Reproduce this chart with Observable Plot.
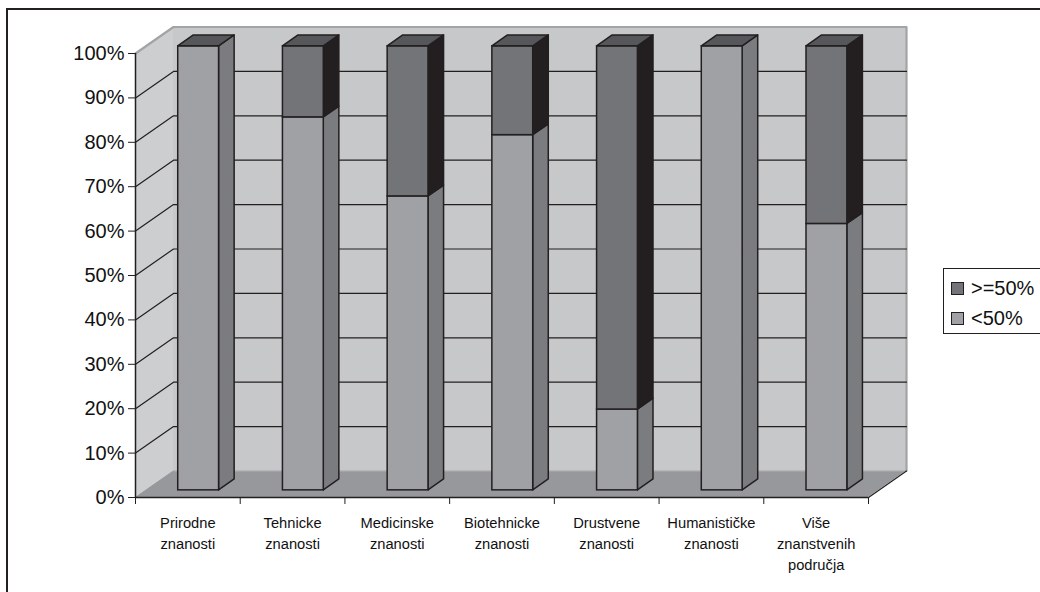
<!DOCTYPE html>
<html><head><meta charset="utf-8">
<script src="https://cdn.jsdelivr.net/npm/d3@7"></script>
<script src="https://cdn.jsdelivr.net/npm/@observablehq/plot@0.6"></script>
<style>
html,body{margin:0;padding:0;background:#fff;overflow:hidden;}
#wrap{position:relative;width:1040px;height:592px;font-family:"Liberation Sans",Arial,sans-serif;}
#frame{position:absolute;left:6px;top:8px;width:1100px;height:700px;border:2px solid #231f20;box-sizing:border-box;}
#chart{position:absolute;left:0;top:0;}
#legend{position:absolute;left:943px;top:268px;width:120px;height:66px;border:1px solid #231f20;background:#fff;box-sizing:border-box;}
.item{position:absolute;left:7px;height:22px;display:flex;align-items:center;font-size:20px;color:#111;white-space:nowrap;}
.sw{width:11px;height:11px;border:1px solid #231f20;margin-right:7px;}
</style></head>
<body>
<div id="wrap"><div id="frame"></div><div id="chart"></div><div id="legend"></div></div>
<script>
// ---- data ----
const categories = ["Prirodne\nznanosti", "Tehnicke\nznanosti", "Medicinske\nznanosti", "Biotehnicke\nznanosti", "Drustvene\nznanosti", "Humanističke\nznanosti", "Više\nznanstvenih\npodručja"];
const seriesNames = [">=50%", "<50%"];
const below50 = [100, 84, 66.2, 80, 18.2, 100, 60];
const above50 = [0, 16, 33.8, 20, 81.8, 0, 40];
const yTicks = [0, 10, 20, 30, 40, 50, 60, 70, 80, 90, 100];

// ---- styling / projection ----
const W = 1040, H = 592, mL = 135, mR = 172, mT = 53, mB = 95;
const n = categories.length;
const yMax = yTicks[yTicks.length - 1];
const pxX = n / (W - mL - mR), pxY = yMax / (H - mT - mB);
const DX = 38 * pxX, DY = 26.5 * pxY;          // full depth offset in data units
const zf = 0.27, zb = 0.68, b0 = 0.31, b1 = 0.70; // bar depth & width within band
const colLo = "#a0a1a4", colLoSide = "#7b7c80", colHi = "#737478", colHiSide = "#231f20", colTop = "#56575b";
const ink = "#231f20";

// segments
const segs = [];
categories.forEach((c, i) => {
  const parts = [{s: "<50%", v0: 0, v1: below50[i]}, {s: ">=50%", v0: below50[i], v1: below50[i] + above50[i]}];
  parts.filter(p => p.v1 > p.v0).forEach((p, k, arr) => segs.push({id: i + p.s, i, s: p.s, v0: p.v0, v1: p.v1, top: k === arr.length - 1}));
});
const front = segs.map(d => ({...d, x1: d.i + b0 + zf * DX, x2: d.i + b1 + zf * DX, y1: d.v0 + zf * DY, y2: d.v1 + zf * DY}));
const side = segs.flatMap(d => [zf, zb].map(z => ({...d, x: d.i + b1 + z * DX, lo: d.v0 + z * DY, hi: d.v1 + z * DY})));
const topF = segs.filter(d => d.top).flatMap(d => [zf, zb].map(z => ({...d, y: d.v1 + z * DY, x1: d.i + b0 + z * DX, x2: d.i + b1 + z * DX})));

const grid = yTicks.filter(v => v > 0 && v < yMax).flatMap(v => [{v, x: 0, y: v}, {v, x: DX, y: v + DY}, {v, x: n + DX, y: v + DY}]);
const edge = [{x: 0, y: yMax}, {x: DX, y: yMax + DY}, {x: n + DX, y: yMax + DY}, {x: n + DX, y: DY}];

const chart = Plot.plot({
  width: W, height: H, marginLeft: mL, marginRight: mR, marginTop: mT, marginBottom: mB,
  x: {domain: [0, n], axis: null},
  y: {domain: [0, yMax], axis: null},
  style: {fontFamily: "'Liberation Sans', Arial, sans-serif", background: "transparent", color: "#111", overflow: "visible"},
  marks: [
    // back wall
    Plot.rect([0], {x1: DX, x2: n + DX, y1: DY, y2: yMax + DY, fill: "#c7c8ca"}),
    // left wall
    Plot.area([{x: 0, lo: 0, hi: yMax}, {x: DX, lo: DY, hi: yMax + DY}], {x1: "x", y1: "lo", y2: "hi", fill: "#cdced0"}),
    // floor
    Plot.area([{y: 0, a: 0, b: n}, {y: DY, a: DX, b: n + DX}], {y1: "y", x1: "a", x2: "b", fill: "#97989b"}),
    Plot.line([{x: DX, y: DY}, {x: n + DX, y: DY}], {x: "x", y: "y", stroke: "#aeafb1", strokeWidth: 1}),
    Plot.line(edge, {x: "x", y: "y", stroke: "#a3a4a6", strokeWidth: 2.2}),
    Plot.line([{x: n, y: 0}, {x: n + DX, y: DY}], {x: "x", y: "y", stroke: ink, strokeWidth: 1.2}),
    // gridlines
    Plot.line(grid, {x: "x", y: "y", z: "v", stroke: ink, strokeWidth: 1.2}),
    // axes lines
    Plot.ruleX([0], {y1: 0, y2: yMax, stroke: ink, strokeWidth: 1.5}),
    Plot.ruleY([0], {x1: 0, x2: n, stroke: ink, strokeWidth: 1.5}),
    Plot.axisY({ticks: yTicks, tickFormat: d => d + "%", tickSize: 7, tickPadding: 4, fontSize: 20, stroke: ink}),
    Plot.axisX({ticks: d3.range(n + 1), tickFormat: () => "", tickSize: 7, stroke: ink}),
    Plot.text(categories, {x: (d, i) => i + 0.5, y: 0, text: d => d, dy: 16, lineAnchor: "top", fontSize: 14.7, lineHeight: 1.42, fill: "#111"}),
    // bars
    Plot.area(side.filter(d => d.s === "<50%"), {x1: "x", y1: "lo", y2: "hi", z: "id", fill: colLoSide, stroke: ink, strokeWidth: 1.5, strokeLinejoin: "round"}),
    Plot.area(side.filter(d => d.s === ">=50%"), {x1: "x", y1: "lo", y2: "hi", z: "id", fill: colHiSide, stroke: ink, strokeWidth: 1.5, strokeLinejoin: "round"}),
    Plot.rect(front.filter(d => d.s === "<50%"), {x1: "x1", x2: "x2", y1: "y1", y2: "y2", fill: colLo, stroke: ink, strokeWidth: 1.5}),
    Plot.rect(front.filter(d => d.s === ">=50%"), {x1: "x1", x2: "x2", y1: "y1", y2: "y2", fill: colHi, stroke: ink, strokeWidth: 1.5}),
    Plot.area(topF, {y1: "y", x1: "x1", x2: "x2", z: "id", fill: colTop, stroke: ink, strokeWidth: 1.5, strokeLinejoin: "round"})
  ]
});
document.getElementById("chart").appendChild(chart);

// legend
const lg = document.getElementById("legend");
const legendColors = {">=50%": colHi, "<50%": colLo};
seriesNames.forEach((s, k) => {
  const it = document.createElement("div");
  it.className = "item";
  it.style.top = (8 + k * 30) + "px";
  it.innerHTML = `<span class="sw" style="background:${legendColors[s]}"></span><span>${s.replace("<", "&lt;").replace(">", "&gt;")}</span>`;
  lg.appendChild(it);
});
</script>
</body></html>
